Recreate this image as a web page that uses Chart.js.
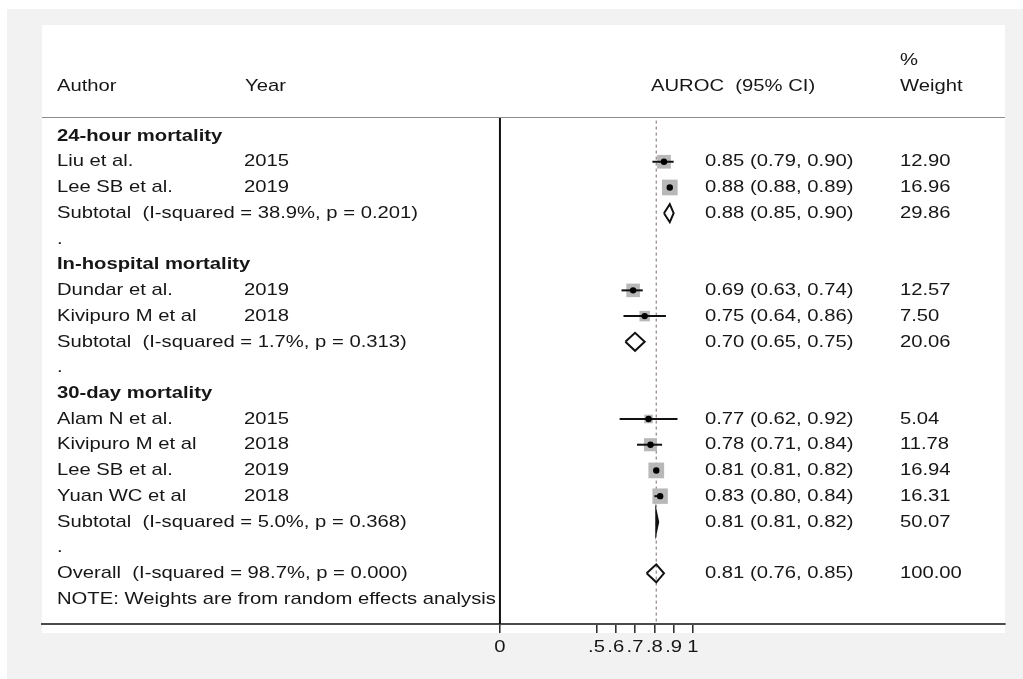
<!DOCTYPE html>
<html>
<head>
<meta charset="utf-8">
<title>AUROC forest plot</title>
<script src="https://cdn.jsdelivr.net/npm/chart.js@4/dist/chart.umd.min.js"></script>
<style>
  html, body { margin: 0; padding: 0; background: #ffffff; }
  #wrap { position: relative; width: 1023px; height: 679px; overflow: hidden; }
  #frame { position: absolute; left: 7px; top: 9px; right: 0; bottom: 0; background: #f2f2f2; }
  #panel { position: absolute; left: 42px; top: 25px; width: 963px; height: 608px; background: #ffffff; }
  #plot { position: absolute; left: 0; top: 0; }
</style>
</head>
<body>
<div id="wrap">
  <div id="frame"></div>
  <div id="panel"></div>
  <canvas id="plot" width="1023" height="679"></canvas>
</div>
<script>
// ---- table rows, top to bottom ----
const rowLabels = [
  '24-hour mortality',
  'Liu et al.',
  'Lee SB et al.',
  'Subtotal  (I-squared = 38.9%, p = 0.201)',
  '.',
  'In-hospital mortality',
  'Dundar et al.',
  'Kivipuro M et al',
  'Subtotal  (I-squared = 1.7%, p = 0.313)',
  '.',
  '30-day mortality',
  'Alam N et al.',
  'Kivipuro M et al',
  'Lee SB et al.',
  'Yuan WC et al',
  'Subtotal  (I-squared = 5.0%, p = 0.368)',
  '.',
  'Overall  (I-squared = 98.7%, p = 0.000)',
  'NOTE: Weights are from random effects analysis'
];
const rowYears = ['', '2015', '2019', '', '', '', '2019', '2018', '', '', '', '2015', '2018', '2019', '2018', '', '', '', ''];
// group = bold heading, study = square + CI, pooled = diamond
const rowKinds = ['group', 'study', 'study', 'pooled', 'blank',
                  'group', 'study', 'study', 'pooled', 'blank',
                  'group', 'study', 'study', 'study', 'study', 'pooled', 'blank',
                  'pooled', 'note'];
const auroc    = [null, 0.85, 0.88, 0.88, null, null, 0.69, 0.75, 0.70, null, null, 0.77, 0.78, 0.81, 0.83, 0.81, null, 0.81, null];
const ciLower  = [null, 0.79, 0.88, 0.85, null, null, 0.63, 0.64, 0.65, null, null, 0.62, 0.71, 0.81, 0.80, 0.81, null, 0.76, null];
const ciUpper  = [null, 0.90, 0.89, 0.90, null, null, 0.74, 0.86, 0.75, null, null, 0.92, 0.84, 0.82, 0.84, 0.82, null, 0.85, null];
const weightPct = [null, 12.90, 16.96, 29.86, null, null, 12.57, 7.50, 20.06, null, null, 5.04, 11.78, 16.94, 16.31, 50.07, null, 100.00, null];

const overallAuroc = 0.81;
const xTickValues = [0, 0.5, 0.6, 0.7, 0.8, 0.9, 1];
const xTickLabels = ['0', '.5', '.6', '.7', '.8', '.9', '1'];

// ---- drawing constants ----
const TEXT_FONT = '17px "Liberation Sans", Arial, sans-serif';
const BOLD_FONT = 'bold 17px "Liberation Sans", Arial, sans-serif';
const TEXT_STRETCH = 1.19;
const TEXT_COLOR = '#161616';
const DIAMOND_HALF = 0.35;      // half height of a diamond, in rows
const Y_MIN = -0.74, Y_MAX = 18.97;
const X_MIN = -2.373, X_MAX = 2.617;

const rowIdx = rowLabels.map((_, i) => i);
const isStudy = i => rowKinds[i] === 'study' && auroc[i] !== null;
const isPooled = i => rowKinds[i] === 'pooled' && auroc[i] !== null;

const datasets = [];

// line of no effect
datasets.push({
  data: [{ x: 0, y: Y_MIN }, { x: 0, y: Y_MAX }],
  showLine: true, borderColor: '#111', borderWidth: 2, pointRadius: 0, order: 9
});
// overall estimate reference line
datasets.push({
  data: [{ x: overallAuroc, y: -0.6 }, { x: overallAuroc, y: Y_MAX }],
  showLine: true, borderColor: '#9a8c8c', borderWidth: 1.3, borderDash: [3, 3], pointRadius: 0, order: 8
});
// weighted squares
datasets.push({
  data: rowIdx.filter(isStudy).map(i => ({ x: auroc[i], y: i })),
  pointStyle: 'rect',
  pointRadius: rowIdx.filter(isStudy).map(i => 2.7 * Math.sqrt(weightPct[i])),
  backgroundColor: '#b8b8b8', borderWidth: 0, order: 7
});
// confidence intervals
rowIdx.filter(isStudy).forEach(i => {
  datasets.push({
    data: [{ x: ciLower[i], y: i }, { x: ciUpper[i], y: i }],
    showLine: true, borderColor: '#111', borderWidth: 2, pointRadius: 0, order: 3
  });
});
// pooled diamonds
rowIdx.filter(isPooled).forEach(i => {
  datasets.push({
    data: [
      { x: ciLower[i], y: i },
      { x: auroc[i], y: i - DIAMOND_HALF },
      { x: ciUpper[i], y: i },
      { x: auroc[i], y: i + DIAMOND_HALF },
      { x: ciLower[i], y: i }
    ],
    showLine: true, borderColor: '#111', borderWidth: 2, pointRadius: 0,
    fill: false, tension: 0, order: 2
  });
});
// point estimates
datasets.push({
  data: rowIdx.filter(isStudy).map(i => ({ x: auroc[i], y: i })),
  pointStyle: 'circle', pointRadius: 3.2, backgroundColor: '#000', borderWidth: 0, order: 1
});

function stretchedText(ctx, str, x, y, align) {
  ctx.save();
  ctx.translate(x, y);
  ctx.scale(TEXT_STRETCH, 1);
  ctx.textAlign = align || 'left';
  ctx.fillText(str, 0, 0);
  ctx.restore();
}

const tablePlugin = {
  id: 'forestTable',
  afterDraw(chart) {
    const { ctx, chartArea, scales } = chart;
    const ys = scales.y, xs = scales.x;

    // header rule
    ctx.save();
    ctx.strokeStyle = '#8c8c8c';
    ctx.lineWidth = 1.2;
    ctx.beginPath();
    ctx.moveTo(chartArea.left, chartArea.top + 0.5);
    ctx.lineTo(chartArea.right, chartArea.top + 0.5);
    ctx.stroke();
    ctx.restore();

    ctx.save();
    ctx.fillStyle = TEXT_COLOR;
    ctx.textBaseline = 'middle';
    ctx.font = TEXT_FONT;

    // column headings
    stretchedText(ctx, 'Author', 57, 86);
    stretchedText(ctx, 'Year', 245, 86);
    stretchedText(ctx, 'AUROC  (95% CI)', 651, 86);
    stretchedText(ctx, '%', 900, 60);
    stretchedText(ctx, 'Weight', 900, 86);

    // rows
    rowLabels.forEach((label, i) => {
      const y = ys.getPixelForValue(i);
      ctx.font = rowKinds[i] === 'group' ? BOLD_FONT : TEXT_FONT;
      stretchedText(ctx, label, 57, y);
      ctx.font = TEXT_FONT;
      if (rowYears[i]) stretchedText(ctx, rowYears[i], 244, y);
      if (auroc[i] !== null) {
        const est = auroc[i].toFixed(2) + ' (' + ciLower[i].toFixed(2) + ', ' + ciUpper[i].toFixed(2) + ')';
        stretchedText(ctx, est, 705, y);
        stretchedText(ctx, weightPct[i].toFixed(2), 900, y);
      }
    });

    // x tick labels
    ctx.font = TEXT_FONT;
    xTickValues.forEach((v, k) => {
      stretchedText(ctx, xTickLabels[k], xs.getPixelForValue(v), chartArea.bottom + 23, 'center');
    });
    ctx.restore();
  }
};

new Chart(document.getElementById('plot'), {
  type: 'scatter',
  data: { datasets },
  plugins: [tablePlugin],
  options: {
    responsive: false,
    animation: false,
    events: [],
    layout: { padding: { left: 42, right: 18, top: 117, bottom: 0 } },
    plugins: { legend: { display: false }, tooltip: { enabled: false } },
    scales: {
      x: {
        type: 'linear',
        min: X_MIN,
        max: X_MAX,
        afterBuildTicks(scale) { scale.ticks = xTickValues.map(v => ({ value: v })); },
        afterFit(scale) { scale.height = 55; },
        ticks: { display: false },
        grid: { drawOnChartArea: false, drawTicks: true, tickLength: 9, color: '#333', lineWidth: 1.6 },
        border: { display: true, color: '#4a4a4a', width: 2 }
      },
      y: {
        type: 'linear',
        display: false,
        reverse: true,
        min: Y_MIN,
        max: Y_MAX
      }
    }
  }
});
</script>
</body>
</html>
